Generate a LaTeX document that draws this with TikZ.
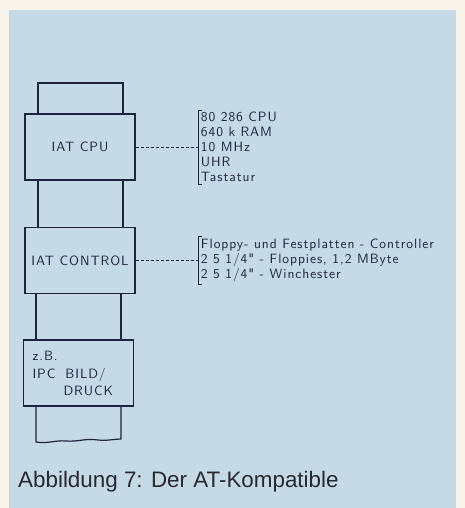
\documentclass[tikz,border=0pt]{standalone}
\usepackage{fontspec}
\newfontfamily\captionfont{Liberation Sans}
\newfontfamily\dinfont{lmsans10-regular}[Extension=.otf, LetterSpace=7]
\usetikzlibrary{positioning}
\definecolor{paper}{RGB}{248,244,234}
\definecolor{panelblue}{RGB}{197,217,231}
\definecolor{inkblue}{RGB}{30,36,60}
\definecolor{captiongray}{RGB}{40,40,46}

\begin{document}
\begin{tikzpicture}[
  x=1pt, y=-1pt,
  card/.style={
    draw=inkblue,
    line width=1.5pt,
    fill=panelblue,
    align=center,
    font=\dinfont\fontsize{13.5}{17}\selectfont\color{inkblue},
    minimum width=110pt,
    minimum height=66pt,
    inner sep=0pt
  },
  info/.style={
    anchor=west,
    align=left,
    font=\dinfont\fontsize{13.5}{15}\selectfont\color{inkblue},
    inner sep=2pt
  },
  bus/.style={draw=inkblue, line width=1.2pt},
  bracket/.style={draw=inkblue, line width=0.8pt},
  link/.style={draw=inkblue, line width=0.7pt, dash pattern=on 3pt off 2pt}
]
\useasboundingbox (0,0) rectangle (465,508);
\fill[paper] (0,0) rectangle (465,508);
\fill[panelblue] (9,10) rectangle (456,508);

\node[card] (cpu) at (80,147) {IAT CPU};
\node[card, below=46pt of cpu] (control) {IAT CONTROL};
\node[card, below=45pt of control, xshift=-1.5pt, text width=92pt, align=left, inner xsep=9pt] (ipc)
  {z.B.\\[1pt]IPC\hspace{10pt}BILD/\\\hspace{31pt}DRUCK};

% Bus above and below
\coordinate (stubtl) at (38,83);
\coordinate (stubtr) at (123,83);
\coordinate (tornl) at (36,442);
\coordinate (tornr) at (121,439);
\draw[bus] (cpu.north -| stubtl) -- (stubtl) -- (stubtr) -- (cpu.north -| stubtr);
\draw[bus] (cpu.south -| stubtl) -- (control.north -| stubtl);
\draw[bus] (cpu.south -| stubtr) -- (control.north -| stubtr);
\draw[bus] (control.south -| tornl) -- (ipc.north -| tornl);
\draw[bus] (control.south -| tornr) -- (ipc.north -| tornr);
\draw[bus] (ipc.south -| tornl) -- (tornl)
  .. controls (48,444) and (55,440) .. (66,441)
  .. controls (78,442) and (86,438) .. (98,440)
  .. controls (108,441) and (114,439) .. (tornr)
  -- (ipc.south -| tornr);

% Details on the right
\node[info, right=63pt of cpu] (cpuinfo) {80 286 CPU\\640 k RAM\\10 MHz\\UHR\\Tastatur};
\node[info, right=63pt of control] (ctrlinfo) {Floppy- und Festplatten - Controller\\2 5 1/4" - Floppies, 1,2 MByte\\2 5 1/4" - Winchester};
\draw[bracket] ([xshift=3pt]cpuinfo.north west) -- (cpuinfo.north west) -- (cpuinfo.south west) -- ++(3,0);
\draw[bracket] ([xshift=3pt]ctrlinfo.north west) -- (ctrlinfo.north west) -- (ctrlinfo.south west) -- ++(3,0);
\draw[link] (cpu.east) -- (cpuinfo.west);
\draw[link] (control.east) -- (ctrlinfo.west);

\node[anchor=base west, inner sep=0pt, font=\captionfont\fontsize{22.4}{26}\selectfont, text=captiongray] (caption) at (18,487) {Abbildung 7: Der AT-Kompatible};
\end{tikzpicture}
\end{document}
